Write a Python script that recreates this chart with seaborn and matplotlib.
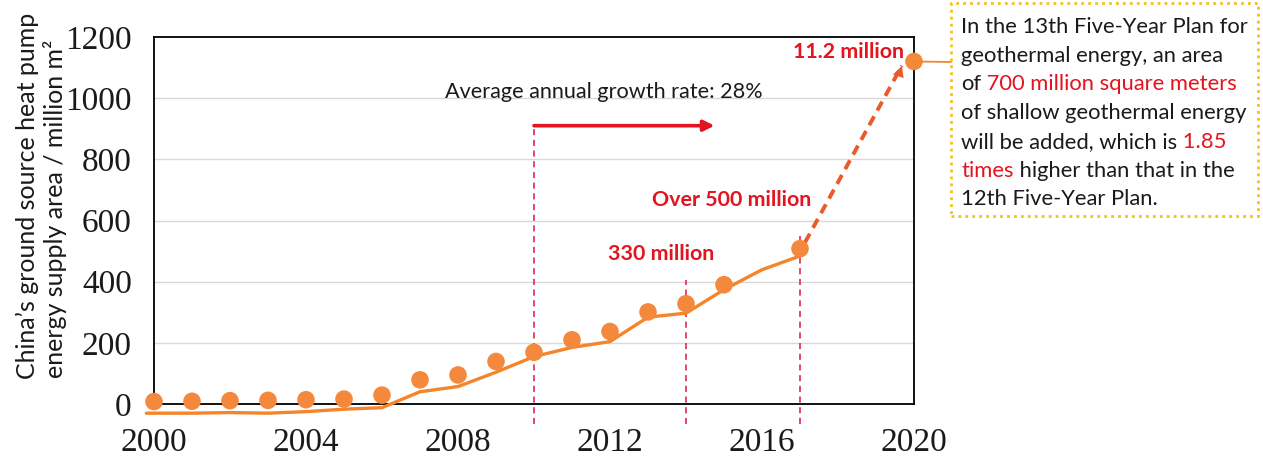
import matplotlib
matplotlib.use("Agg")
import matplotlib.pyplot as plt
from matplotlib.text import Annotation
import seaborn as sns
import pandas as pd
from matplotlib.patches import Rectangle, ConnectionPatch
from matplotlib.ticker import MultipleLocator, FixedLocator, FuncFormatter

# ---------------- data ----------------
point_years = [2000, 2001, 2002, 2003, 2004, 2005, 2006, 2007, 2008, 2009,
               2010, 2011, 2012, 2013, 2014, 2015, 2017, 2020]
point_area = [8, 9, 11, 12, 14, 16, 29, 79, 95, 139,
              169, 210, 237, 301, 328, 390, 508, 1120]
trend_years = [1999.8] + list(range(2001, 2018))
trend_area = [-30, -30, -28, -30, -25, -17, -12, 40, 57, 104,
              155, 185, 204, 284, 297, 374, 439, 484]
proj_years = [2017.13, 2019.68]
proj_area = [528, 1106]
marker_years = [2010, 2014, 2017]
marker_tops = [915, 407, 564]
ytick_vals = [0, 200, 400, 600, 800, 1000, 1200]
xtick_labels = [2000, 2004, 2008, 2012, 2016, 2020]

ylabel_1 = "China\u2019s ground source heat pump"
ylabel_2 = "energy supply area / million m\u00b2"
growth_text = "Average annual growth rate: 28%"
lbl_330 = "330 million"
lbl_500 = "Over 500 million"
lbl_112 = "11.2 million"
box_lines = [
    [("In the 13th Five-Year Plan for", "k")],
    [("geothermal energy, an area", "k")],
    [("of", "k"), (" 700 million square meters", "r")],
    [("of shallow geothermal energy", "k")],
    [("will be added, which is", "k"), (" 1.85", "r")],
    [("times", "r"), (" higher than that in the", "k")],
    [("12th Five-Year Plan.", "k")],
]

# ---------------- style ----------------
W, H = 1263, 465
sns.set_theme(style="white")
plt.rcParams["font.family"] = ["Lato", "DejaVu Sans"]

DOT = "#f4883c"
LINE = "#f5852a"
RED = "#e3141f"
VRED = "#d8193e"
PROJ = "#ea5a2c"
SERIF = "Liberation Serif"

fig = plt.figure(figsize=(W / 100, H / 100), dpi=100)
fig.patch.set_facecolor("white")


def fx(px):
    return px / W


def fy(py):
    return 1 - py / H


ymin = -70
px_per_unit = (404 - 37) / 1200.0
bottom_px = 404 + (-ymin) * px_per_unit
ax = fig.add_axes([fx(154), fy(bottom_px), (914 - 154) / W, (bottom_px - 37) / H])
ax.set_facecolor("white")

df_pts = pd.DataFrame({"year": point_years, "area": point_area})
df_trend = pd.DataFrame({"year": trend_years, "area": trend_area})

# grid
for v in ytick_vals[1:-1]:
    ax.axhline(v, color="#d9d9d9", lw=1.0, zorder=0)

# trend line
sns.lineplot(data=df_trend, x="year", y="area", ax=ax, color=LINE, lw=2.4,
             zorder=3, clip_on=False)
# projection dashed line + arrow head
ax.plot(proj_years, proj_area, color=PROJ, lw=2.8, linestyle=(0, (2.6, 1.7)),
        zorder=3, clip_on=False)
ax.annotate("", xy=(proj_years[1], proj_area[1]),
            xytext=(proj_years[1] - 0.12, proj_area[1] - 45),
            arrowprops=dict(arrowstyle="-|>", mutation_scale=20, color=PROJ,
                            lw=0, shrinkA=0, shrinkB=0), zorder=3)
# points
sns.scatterplot(data=df_pts, x="year", y="area", ax=ax, color=DOT, s=160,
                edgecolor="none", zorder=4, clip_on=False)

# red dashed verticals
for yr, top in zip(marker_years, marker_tops):
    ax.plot([yr, yr], [ymin + 5, top], color=VRED, lw=1.1,
            linestyle=(0, (4, 3)), zorder=2, clip_on=False)

# growth arrow
ax.annotate("", xy=(2014.75, 910), xytext=(2010, 910),
            arrowprops=dict(arrowstyle="-|>", mutation_scale=16, color=RED,
                            lw=2.6, shrinkA=0, shrinkB=0))
ax.text(2011.84, 1020, growth_text, ha="center", va="center",
        fontsize=15.6, color="#1a1a1a")

# red labels
LBL_FS = 15.4
ax.text(2013.34, 489, lbl_330, ha="center", va="center", fontsize=LBL_FS,
        fontweight="bold", color=RED)
ax.text(2015.2, 666, lbl_500, ha="center", va="center", fontsize=LBL_FS,
        fontweight="bold", color=RED)
ax.text(2018.27, 1151, lbl_112, ha="center", va="center", fontsize=LBL_FS,
        fontweight="bold", color=RED)

# axes limits / spines
ax.set_xlim(2000, 2020)
ax.set_ylim(ymin, 1200)
ax.spines["bottom"].set_position(("data", 0))
for s in ["left", "right", "top", "bottom"]:
    ax.spines[s].set_visible(True)
    ax.spines[s].set_color("black")
    ax.spines[s].set_linewidth(1.3)
ax.spines["left"].set_bounds(0, 1200)
ax.spines["right"].set_bounds(0, 1200)

ax.yaxis.set_major_locator(FixedLocator(ytick_vals))
ax.yaxis.set_minor_locator(MultipleLocator(100))
ax.xaxis.set_major_locator(MultipleLocator(2))
ax.xaxis.set_minor_locator(MultipleLocator(1))
ax.xaxis.set_major_formatter(FuncFormatter(
    lambda v, p: str(int(round(v))) if int(round(v)) in xtick_labels else ""))
ax.tick_params(axis="both", which="both", direction="in", top=False,
               right=False, color="black", width=1.1)
ax.tick_params(axis="y", which="major", length=8, pad=16)
ax.tick_params(axis="y", which="minor", length=8)
ax.tick_params(axis="x", which="major", length=8.5, pad=17)
ax.tick_params(axis="x", which="minor", length=5)
for lab in ax.get_xticklabels() + ax.get_yticklabels():
    lab.set_fontfamily(SERIF)
    lab.set_fontsize(24)
    lab.set_color("#1a1a1a")
ax.set_xlabel("")
ax.set_ylabel("")

# y label (two lines)
fig.text(fx(27), fy(196), ylabel_1, rotation=90, ha="center", va="center",
         fontsize=18, color="#1a1a1a")
fig.text(fx(55), fy(209), ylabel_2, rotation=90, ha="center", va="center",
         fontsize=18, color="#1a1a1a")

# text box
box = Rectangle((fx(951), fy(216)), (1258 - 951) / W, (216 - 3) / H,
                transform=fig.transFigure, fill=False, edgecolor="#f2c21b",
                lw=2.0, linestyle=(0, (1, 1.5)), zorder=5)
fig.add_artist(box)
con = ConnectionPatch(xyA=(2020, 1120), coordsA=ax.transData,
                      xyB=(fx(951), fy(62)), coordsB=fig.transFigure,
                      color=LINE, lw=1.3, zorder=2)
fig.add_artist(con)

# rich text lines with coloured fragments (chained annotations)
BOX_FS = 15.8
line_y = [27, 56, 84, 113, 142, 171, 199]
colmap = {"k": "#1a1a1a", "r": RED}
for parts, ly in zip(box_lines, line_y):
    prev = fig.text(fx(961), fy(ly), parts[0][0], ha="left", va="center",
                    fontsize=BOX_FS, color=colmap[parts[0][1]])
    for txt, c in parts[1:]:
        prev = fig.add_artist(Annotation(
            txt, xy=(1, 0), xycoords=prev, ha="left", va="bottom",
            fontsize=BOX_FS, color=colmap[c]))

fig.savefig("out.png", dpi=100)
